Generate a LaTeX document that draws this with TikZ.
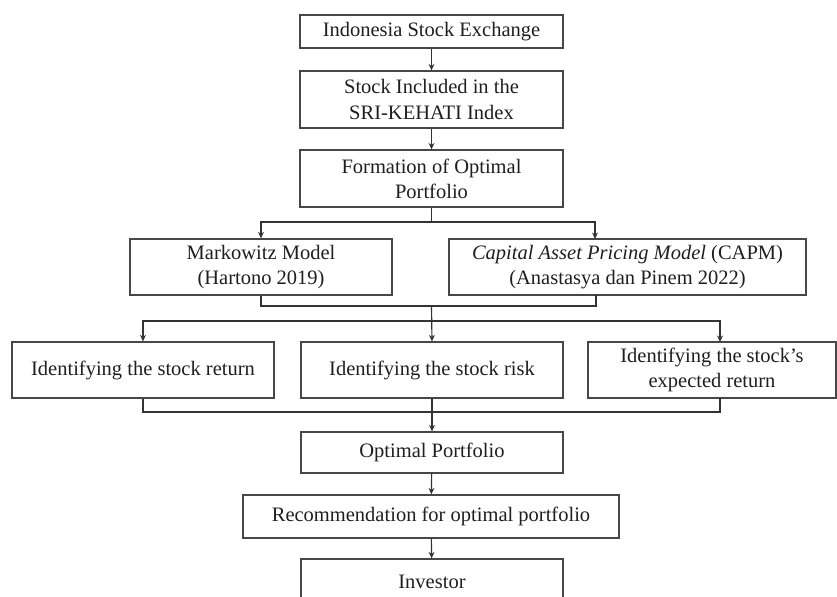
\documentclass[tikz,border=0pt]{standalone}
\usepackage{fontspec}
\setmainfont{Liberation Serif}
\usetikzlibrary{arrows.meta,calc}

\begin{document}
\begin{tikzpicture}[x=0.03cm,y=-0.03cm,
    box/.style={draw=black!72,line width=1.1pt,fill=white,inner sep=0pt,
      align=center,text=black!88,font=\fontsize{17.5}{21.5}\selectfont},
    link/.style={draw=black!80,line width=1pt},
    arr/.style={link,-{Stealth[length=5.5pt,width=5pt]}}]
   \useasboundingbox (0,0) rectangle (837,597);

   % top column
   \node[box,minimum width=7.89cm,minimum height=0.99cm] (ise) at (431.5,31.5) {Indonesia Stock Exchange};
   \node[box,minimum width=7.89cm,minimum height=1.71cm] (sri) at (431.5,99.5) {Stock Included in the\\SRI-KEHATI Index};
   \node[box,minimum width=7.89cm,minimum height=1.71cm] (form) at (431.5,178.5) {Formation of Optimal\\Portfolio};

   % models
   \node[box,minimum width=7.86cm,minimum height=1.68cm] (mark) at (261,267) {Markowitz Model\\(Hartono 2019)};
   \node[box,minimum width=10.71cm,minimum height=1.68cm] (capm) at (627.5,267) {\textit{Capital Asset Pricing Model} (CAPM)\\(Anastasya dan Pinem 2022)};

   % identifying steps
   \node[box,minimum width=7.86cm,minimum height=1.68cm] (ret) at (143,370) {Identifying the stock return};
   \node[box,minimum width=7.86cm,minimum height=1.68cm] (risk) at (432,370) {Identifying the stock risk};
   \node[box,minimum width=7.44cm,minimum height=1.68cm] (exp) at (712,370) {Identifying the stock's\\expected return};

   % bottom column
   \node[box,minimum width=7.86cm,minimum height=1.23cm] (op) at (432,452.5) {Optimal Portfolio};
   \node[box,minimum width=11.28cm,minimum height=1.29cm] (rec) at (431,516.5) {Recommendation for optimal portfolio};
   \node[box,minimum width=7.86cm,minimum height=1.38cm] (inv) at (432,582) {Investor};

   \coordinate (fork1) at (431.5,222);
   \coordinate (capmin) at (595,239);
   \coordinate (capmout) at (596,295);
   \coordinate (join1) at (431.5,306);
   \coordinate (fork2) at (431.5,321);
   \coordinate (expin) at (720,342);
   \coordinate (expout) at (720,398);
   \coordinate (join2) at (432,412);

   \draw[arr] (ise) -- (sri);
   \draw[arr] (sri) -- (form);

   \draw[link] (form.south) -- (fork1);
   \draw[arr] (fork1) -| (mark.north);
   \draw[arr] (fork1) -| (capmin);

   \draw[link] (mark.south) |- (join1) -| (capmout);
   \draw[arr] (join1) -- (risk.north);
   \draw[arr] (fork2) -| (ret.north);
   \draw[arr] (fork2) -| (expin);

   \draw[link] (ret.south) |- (join2) -| (expout);
   \draw[arr] (risk.south) -- (op.north);
   %\draw[arr] (join2) -- (op.north);

   \draw[arr] (op) -- (rec);
   \draw[arr] (rec) -- (inv);
\end{tikzpicture}
\end{document}
